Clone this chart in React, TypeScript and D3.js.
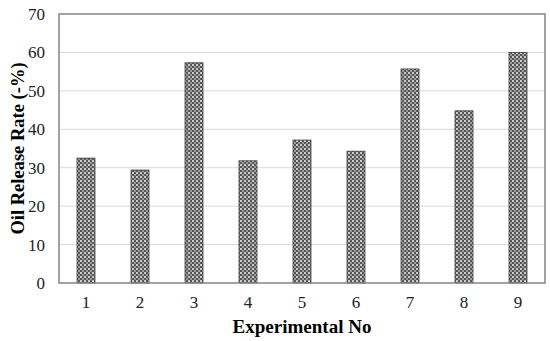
import React, { useRef, useEffect } from 'react';
import * as d3 from 'd3';

const experiments = ['1', '2', '3', '4', '5', '6', '7', '8', '9'];
const releaseRate = [32.5, 29.4, 57.3, 31.8, 37.2, 34.3, 55.7, 44.8, 60.0];
const yTicks = [0, 10, 20, 30, 40, 50, 60, 70];

const App: React.FC = () => {
  const ref = useRef<SVGSVGElement | null>(null);

  useEffect(() => {
    if (!ref.current) return;
    const svg = d3.select(ref.current);
    const width = 550;
    const height = 341;
    const margin = { top: 14, right: 5, bottom: 58, left: 59 };
    const font = '"Liberation Serif", "Times New Roman", serif';

    svg.selectAll('*').remove();

    // dotted fill pattern for the bars
    const defs = svg.append('defs');
    const pat = defs.append('pattern')
      .attr('id', 'dots')
      .attr('patternUnits', 'userSpaceOnUse')
      .attr('width', 4)
      .attr('height', 4);
    pat.append('rect').attr('width', 4).attr('height', 4).attr('fill', '#555');
    pat.append('circle').attr('cx', 1).attr('cy', 1).attr('r', 0.95).attr('fill', '#fff');
    pat.append('circle').attr('cx', 3).attr('cy', 3).attr('r', 0.8).attr('fill', '#f4f4f4');

    const x = d3.scaleBand().domain(experiments)
      .range([margin.left, width - margin.right])
      .paddingInner(2 / 3).paddingOuter(1 / 3);
    const y = d3.scaleLinear().domain([0, 70]).range([height - margin.bottom, margin.top]);

    // gridlines
    svg.append('g')
      .selectAll('line')
      .data(yTicks.filter(t => t > 0 && t < 70))
      .enter()
      .append('line')
      .attr('x1', margin.left)
      .attr('x2', width - margin.right)
      .attr('y1', d => y(d))
      .attr('y2', d => y(d))
      .attr('stroke', '#d9d9d9')
      .attr('stroke-width', 1);

    // bars
    svg.append('g')
      .selectAll('rect')
      .data(releaseRate)
      .enter()
      .append('rect')
      .attr('x', (_, i) => x(experiments[i])!)
      .attr('y', d => y(d))
      .attr('width', x.bandwidth())
      .attr('height', d => y(0) - y(d))
      .attr('fill', 'url(#dots)')
      .attr('stroke', '#3a3a3a')
      .attr('stroke-width', 0.8);

    // frame
    svg.append('rect')
      .attr('x', margin.left)
      .attr('y', margin.top)
      .attr('width', width - margin.left - margin.right)
      .attr('height', height - margin.top - margin.bottom)
      .attr('fill', 'none')
      .attr('stroke', '#858585')
      .attr('stroke-width', 1.5);

    // y tick labels
    svg.append('g')
      .selectAll('text')
      .data(yTicks)
      .enter()
      .append('text')
      .attr('x', margin.left - 14)
      .attr('y', d => y(d))
      .attr('dy', '0.35em')
      .attr('text-anchor', 'end')
      .attr('font-family', font)
      .attr('font-size', 17)
      .attr('fill', '#222')
      .text(d => d);

    // x tick labels
    svg.append('g')
      .selectAll('text')
      .data(experiments)
      .enter()
      .append('text')
      .attr('x', d => x(d)! + x.bandwidth() / 2)
      .attr('y', height - margin.bottom + 25)
      .attr('text-anchor', 'middle')
      .attr('font-family', font)
      .attr('font-size', 17)
      .attr('fill', '#222')
      .text(d => d);

    svg.append('text')
      .attr('text-anchor', 'middle')
      .attr('x', (margin.left + width - margin.right) / 2)
      .attr('y', height - 8)
      .attr('font-family', font)
      .attr('font-size', 19)
      .attr('font-weight', 'bold')
      .text('Experimental No');

    svg.append('text')
      .attr('text-anchor', 'middle')
      .attr('transform', `translate(${18},${(margin.top + height - margin.bottom) / 2}) rotate(-90)`)
      .attr('dy', '0.35em')
      .attr('font-family', font)
      .attr('font-size', 18.5)
      .attr('font-weight', 'bold')
      .text('Oil Release Rate (-%)');
  }, []);

  return <svg ref={ref} width={550} height={341} style={{ display: 'block', position: 'absolute', left: 0, top: 0, background: '#fff' }}></svg>;
};

export default App;
